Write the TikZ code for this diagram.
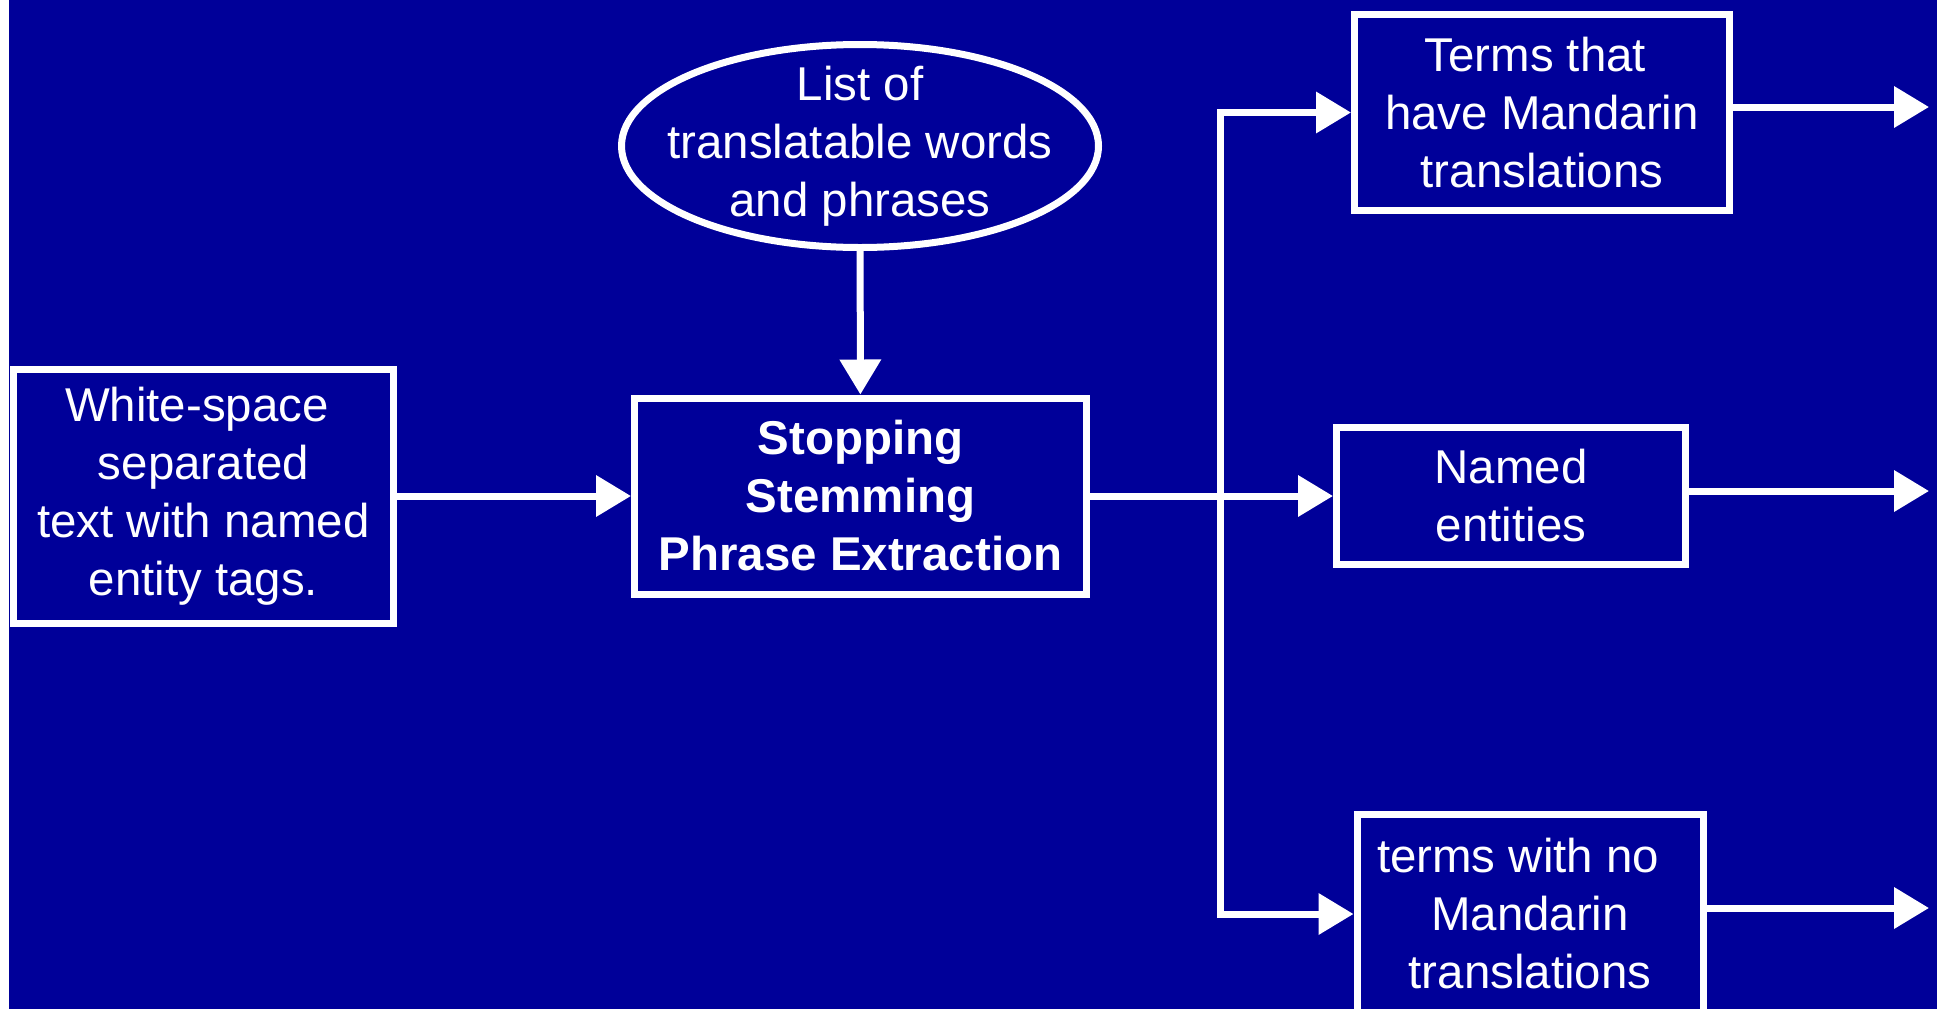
\documentclass[tikz,border=0pt]{standalone}
\usepackage{fontspec}
\setmainfont{Liberation Sans}
\usetikzlibrary{shapes.geometric,arrows.meta}
\definecolor{slideblue}{RGB}{0,0,153}

\begin{document}
\begin{tikzpicture}[every node/.style={text=white, align=center, inner sep=0pt, font=\fontsize{13.5}{16.5}\selectfont},
    box/.style={draw=white, line width=0.07cm, rectangle},
    oval/.style={draw=white, line width=0.07cm, ellipse},
    >={Triangle[length=0.35cm, width=0.4cm]}, line width=0.07cm]
    \useasboundingbox (0,0) rectangle (19.37,10.09);
    \fill[white] (0,0) rectangle (0.09,10.09);
    \fill[slideblue] (0.09,0) rectangle (19.37,10.09);

    \node[box, minimum width=3.80cm, minimum height=2.54cm](source) at (2.035, 5.13) {White-space\hspace*{0.28em}\\ separated\hspace*{0.28em}\\ text with named\\ entity tags.};
    \node[box, minimum width=4.52cm, minimum height=1.96cm, font=\fontsize{13.5}{16.5}\selectfont\bfseries](proc) at (8.605, 5.13) {Stopping\\ Stemming\\ Phrase Extraction};

    \node[oval, minimum width=4.77cm, minimum height=2.03cm](list) at (8.60, 8.63) {};
    \node[](list text) at (list.center) {List of\\ translatable words\\ and phrases};

    % results
    \node[box, minimum width=3.75cm, minimum height=1.96cm](terms) at (15.42, 8.965) {Terms that\hspace*{0.28em}\\ have Mandarin\hspace*{0.28em}\\ translations};
    \node[box, minimum width=3.49cm, minimum height=1.37cm](named) at (15.11, 5.13) {Named\\ entities};
    \node[box, minimum width=3.46cm, minimum height=1.99cm](noterms) at (15.30, 0.95) {terms with no\hspace*{0.5em}\\ Mandarin\\ translations};

    \coordinate (split) at (12.205, 5.13);
    \coordinate (terms out) at (19.29, 9.02);
    \coordinate (named out) at (19.29, 5.18);
    \coordinate (noterms out) at (19.29, 1.01);

    \draw[white, ->] (list) -- (proc);
    \draw[white, ->] (source) -- (proc);
    \draw[white, ->] (proc) -- (named);
    \draw[white, to path={|- (\tikztotarget)}]
 	(split) edge[->] (terms)  (split) edge[->] (noterms);

    % outputs
    \draw[white]
 	(terms.east |- terms out) edge[->] (terms out)
 	(named.east |- named out) edge[->] (named out)
 	(noterms.east |- noterms out) edge[->] (noterms out);
\end{tikzpicture}
\end{document}
